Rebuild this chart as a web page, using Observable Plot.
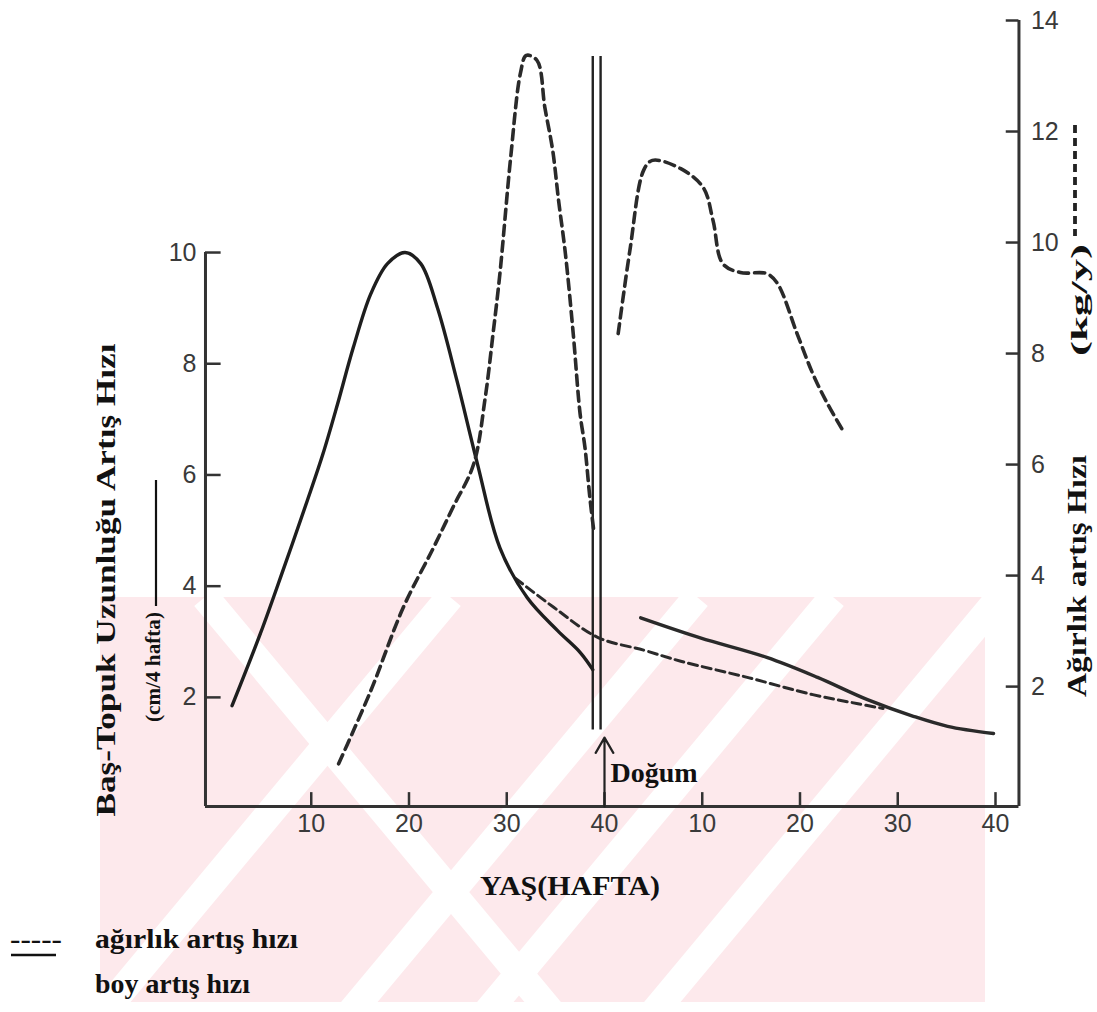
<!DOCTYPE html>
<html><head><meta charset="utf-8">
<script src="https://cdn.jsdelivr.net/npm/d3@7"></script>
<script src="https://cdn.jsdelivr.net/npm/@observablehq/plot@0.6"></script>
<style>
html,body{margin:0;padding:0;background:#fff;}
body{width:1097px;height:1012px;overflow:hidden;position:relative;}
#bg,#fg,#chart{position:absolute;left:0;top:0;}
#fg text{font-family:"Liberation Serif",serif;font-weight:bold;fill:#111;}
</style></head>
<body>
<svg id="bg" width="1097" height="1012">
  <defs><clipPath id="wm"><rect x="100" y="597" width="885" height="405"/></clipPath></defs>
  <g clip-path="url(#wm)">
    <rect x="100" y="597" width="885" height="405" fill="#fde9ec"/>
    <g stroke="#fff" stroke-width="28">
      <line x1="450" y1="597" x2="104" y2="1012"/>
      <line x1="697" y1="597" x2="351" y2="1012"/>
      <line x1="833" y1="597" x2="487" y2="1012"/>
      <line x1="1000" y1="597" x2="654" y2="1012"/>
      <line x1="205" y1="597" x2="551" y2="1012"/>
    </g>
  </g>
</svg>
<div id="chart"></div>
<svg id="fg" width="1097" height="1012" style="pointer-events:none">
  <text transform="translate(115,580) rotate(-90)" text-anchor="middle" font-size="27" textLength="473" lengthAdjust="spacingAndGlyphs">Baş-Topuk Uzunluğu Artış Hızı</text>
  <text transform="translate(160,667) rotate(-90)" text-anchor="middle" font-size="22" textLength="110" lengthAdjust="spacingAndGlyphs">(cm/4 hafta)</text>
  <line x1="156" x2="156" y1="480" y2="606" stroke="#111" stroke-width="2.2"/>
  <text transform="translate(1086,576) rotate(-90)" text-anchor="middle" font-size="27" textLength="242" lengthAdjust="spacingAndGlyphs">Ağırlık artış Hızı</text>
  <text transform="translate(1087,300) rotate(-90)" text-anchor="middle" font-size="24" textLength="112" lengthAdjust="spacingAndGlyphs">(kg/y)</text>
  <line x1="1075" x2="1075" y1="125" y2="236" stroke="#222" stroke-width="3.8" stroke-dasharray="8,5"/>
  <text x="570" y="895" text-anchor="middle" font-size="27" textLength="180" lengthAdjust="spacingAndGlyphs">YAŞ(HAFTA)</text>
  <text x="10" y="948" font-size="28" textLength="52" lengthAdjust="spacingAndGlyphs">-----</text>
  <text x="95" y="948" font-size="28" textLength="203" lengthAdjust="spacingAndGlyphs">ağırlık artış hızı</text>
  <line x1="11" x2="56" y1="955" y2="955" stroke="#111" stroke-width="2.6"/>
  <text x="95" y="993" font-size="28" textLength="155" lengthAdjust="spacingAndGlyphs">boy artış hızı</text>
</svg>
<script>
// ---- data ----
const xTicks = [10, 20, 30, 40, 50, 60, 70, 80];
const xTickLabels = ["10", "20", "30", "40", "10", "20", "30", "40"];
const leftTicks = [2, 4, 6, 8, 10];          // cm / 4 hafta
const rightTicks = [2, 4, 6, 8, 10, 12, 14];  // kg / y

// boy artış hızı (left axis, cm/4 hafta)
const boyPreWeek = [1.9, 4.8, 7.2, 9.6, 11.2, 12.7, 14.3, 16.1, 17.8, 19.6, 21.2, 22.9, 24.9, 27.0, 29.3, 32.1, 35.2, 37.5, 38.8];
const boyPreRate = [1.85, 3.15, 4.33, 5.54, 6.38, 7.28, 8.29, 9.26, 9.80, 10.0, 9.80, 9.01, 7.70, 6.20, 4.69, 3.79, 3.20, 2.81, 2.50];
const boyPostWeek = [43.7, 49.8, 56.6, 61.8, 66.9, 71.6, 75.1, 79.8];
const boyPostRate = [3.43, 3.07, 2.72, 2.36, 1.96, 1.66, 1.48, 1.35];
// boy – rahim kısıtlaması olmasaydı (kesikli, left axis)
const boyHypWeek = [30.9, 34.8, 39.3, 44.0, 47.8, 54.6, 61.3, 65.8, 68.5];
const boyHypRate = [4.14, 3.62, 3.08, 2.85, 2.65, 2.36, 2.05, 1.89, 1.80];

// ağırlık artış hızı (right axis, kg/y)
const agirlikPreWeek = [12.8, 16.1, 19.4, 22.5, 24.5, 26.6, 27.8, 28.6, 29.3, 30.4, 31.4, 32.0, 33.1, 33.9, 34.7, 35.3, 36.0, 36.8, 37.5, 38.0, 38.5, 38.9];
const agirlikPreRate = [0.61, 1.93, 3.42, 4.50, 5.23, 6.00, 7.21, 8.36, 9.44, 11.53, 13.05, 13.37, 13.28, 12.43, 11.66, 10.76, 9.80, 8.36, 6.92, 6.31, 5.41, 4.81];
const agirlikPostWeek = [41.4, 42.6, 44.0, 44.9, 47.8, 50.1, 51.1, 52.1, 53.9, 56.6, 57.7, 59.7, 61.3, 62.8, 64.4];
const agirlikPostRate = [8.36, 9.86, 11.3, 11.48, 11.33, 10.99, 10.4, 9.62, 9.46, 9.44, 9.26, 8.36, 7.64, 7.10, 6.61];

const birthWeek = 40;
const birthLineWeeks = [38.8, 39.6];
const birthLineRange = [1.22, 13.35]; // kg/y units
const birthLabel = "Doğum";

// ---- helpers ----
const leftToRight = v => v * 1.0018 - 0.198;   // left axis value in right-axis units
const toRows = (w, r, f = v => v) => w.map((x, i) => ({x, y: f(r[i])}));
const xA0 = -0.82, xA1 = 82.4, yBase = -0.16;
const tickFont = {fontFamily: "Liberation Sans, Arial, sans-serif", fontSize: 25, fill: "#3a3a3a"};
const axisStroke = {stroke: "#333", strokeWidth: 3};

const chart = Plot.plot({
  width: 1097, height: 860,
  marginLeft: 213, marginRight: 102, marginTop: 20, marginBottom: 54,
  x: {domain: [0, 80], axis: null},
  y: {domain: [yBase, 14], axis: null},
  style: "background: transparent; overflow: visible;",
  marks: [
    // axes
    Plot.ruleY([yBase], {x1: xA0, x2: xA1, ...axisStroke}),
    Plot.ruleX([xA0], {y1: yBase, y2: leftToRight(10), ...axisStroke}),
    Plot.ruleX([xA1], {y1: yBase, y2: 14, ...axisStroke}),
    Plot.ruleX(xTicks, {x: d => d, y1: yBase, y2: yBase + 0.25, stroke: "#333", strokeWidth: 2.5}),
    Plot.ruleY(leftTicks, {y: d => leftToRight(d), x1: xA0, x2: xA0 + 1.6, stroke: "#333", strokeWidth: 2.5}),
    Plot.ruleY(rightTicks, {y: d => d, x1: xA1 - 1.3, x2: xA1, stroke: "#333", strokeWidth: 2.5}),
    Plot.text(xTicks, {x: d => d, y: yBase, text: (d, i) => xTickLabels[i], dy: 17, lineAnchor: "middle", ...tickFont}),
    Plot.text(leftTicks, {x: xA0, y: d => leftToRight(d), text: d => String(d), dx: -9, textAnchor: "end", lineAnchor: "middle", ...tickFont}),
    Plot.text(rightTicks, {x: xA1, y: d => d, text: d => String(d), dx: 12, textAnchor: "start", lineAnchor: "middle", ...tickFont}),
    // birth marker
    Plot.ruleX(birthLineWeeks, {x: d => d, y1: birthLineRange[0], y2: birthLineRange[1], stroke: "#222", strokeWidth: 2.4}),
    Plot.arrow([birthWeek], {x1: d => d, x2: d => d, y1: yBase, y2: 1.08, stroke: "#222", strokeWidth: 2.2, headLength: 12}),
    Plot.text([birthWeek], {x: d => d, y: 0.45, text: () => birthLabel, dx: 6, textAnchor: "start", lineAnchor: "middle",
      fontFamily: "Liberation Serif, serif", fontWeight: "bold", fontSize: 28, fill: "#111"}),
    // curves
    Plot.line(toRows(boyHypWeek, boyHypRate, leftToRight), {x: "x", y: "y", stroke: "#2a2a2a", strokeWidth: 3, strokeDasharray: "9,5", curve: "catmull-rom"}),
    Plot.line(toRows(boyPreWeek, boyPreRate, leftToRight), {x: "x", y: "y", stroke: "#1e1e1e", strokeWidth: 3.4, curve: "catmull-rom"}),
    Plot.line(toRows(boyPostWeek, boyPostRate, leftToRight), {x: "x", y: "y", stroke: "#2a2a2a", strokeWidth: 3.4, curve: "catmull-rom"}),
    Plot.line(toRows(agirlikPreWeek, agirlikPreRate), {x: "x", y: "y", stroke: "#2a2a2a", strokeWidth: 3.6, strokeDasharray: "10,6", curve: "catmull-rom"}),
    Plot.line(toRows(agirlikPostWeek, agirlikPostRate), {x: "x", y: "y", stroke: "#2a2a2a", strokeWidth: 3.6, strokeDasharray: "10,6", curve: "catmull-rom"})
  ]
});
document.getElementById("chart").appendChild(chart);
</script>
</body></html>
